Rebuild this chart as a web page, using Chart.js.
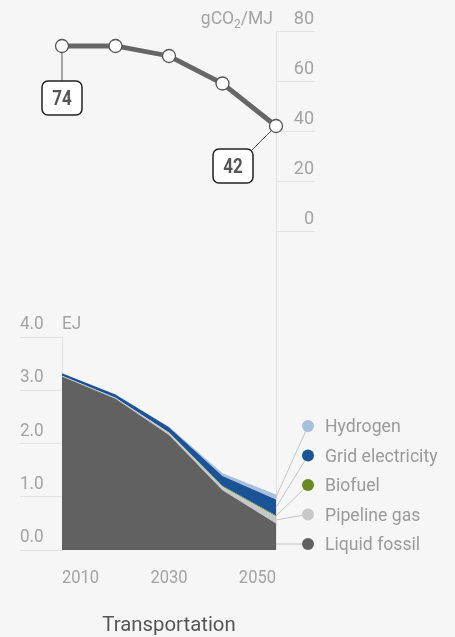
<!DOCTYPE html>
<html>
<head>
<meta charset="utf-8">
<script src="https://cdn.jsdelivr.net/npm/chart.js@4.4.1/dist/chart.umd.min.js"></script>
<style>
  html, body { margin: 0; padding: 0; background: #f6f6f6; }
  #wrap { position: relative; width: 455px; height: 637px; }
  #wrap canvas { position: absolute; left: 0; top: 0; }
</style>
</head>
<body>
<div id="wrap">
  <canvas id="areaChart" width="455" height="637"></canvas>
  <canvas id="lineChart" width="455" height="637"></canvas>
</div>
<script>
// data
const years = ['2010', '2020', '2030', '2040', '2050'];
const shownYears = ['2010', '2030', '2050'];
const intensity = [74, 74, 70, 59, 42];
const intensityTicks = [0, 20, 40, 60, 80];
const energyTicks = ['0.0', '1.0', '2.0', '3.0', '4.0'];

const liquidFossil = [3.26, 2.84, 2.16, 1.12, 0.50];
const pipelineGas = [0.01, 0.02, 0.04, 0.07, 0.13];
const biofuel = [0, 0, 0.005, 0.01, 0.02];
const gridElectricity = [0.05, 0.06, 0.10, 0.19, 0.30];
const hydrogen = [0, 0, 0.01, 0.05, 0.09];

const seriesNames = ['Liquid fossil', 'Pipeline gas', 'Biofuel', 'Grid electricity', 'Hydrogen'];
const seriesColors = ['#616161', '#c8c8c8', '#6b8a23', '#1b5496', '#a9c0dd'];

const TICK_GREY = '#a3a3a3';
const GRID = '#e2e2e2';

// text helper, sx squeezes Roboto horizontally so it looks condensed
function txt(ctx, s, x, y, size, color, align, weight, sx) {
  sx = sx || 1;
  ctx.save();
  ctx.font = (weight || 400) + ' ' + size + 'px Roboto';
  ctx.fillStyle = color;
  ctx.textBaseline = 'alphabetic';
  ctx.textAlign = 'left';
  const w = ctx.measureText(s).width * sx;
  let x0 = x;
  if (align === 'right') x0 = x - w;
  if (align === 'center') x0 = x - w / 2;
  ctx.translate(x0, y);
  ctx.scale(sx, 1);
  ctx.fillText(s, 0, 0);
  ctx.restore();
  return w;
}

function roundBox(ctx, cx, cy, w, h, r) {
  const x = cx - w / 2, y = cy - h / 2;
  ctx.beginPath();
  ctx.moveTo(x + r, y);
  ctx.arcTo(x + w, y, x + w, y + h, r);
  ctx.arcTo(x + w, y + h, x, y + h, r);
  ctx.arcTo(x, y + h, x, y, r);
  ctx.arcTo(x, y, x + w, y, r);
  ctx.closePath();
}

// ---------- top: carbon intensity line ----------
const lineDecor = {
  id: 'lineDecor',
  beforeDatasetsDraw(chart) {
    const ctx = chart.ctx;
    const pts = chart.getDatasetMeta(0).data;
    const first = pts[0], last = pts[pts.length - 1];
    ctx.save();
    ctx.strokeStyle = '#555';
    ctx.lineWidth = 1;
    ctx.beginPath();
    ctx.moveTo(first.x, first.y);
    ctx.lineTo(first.x, first.y + 36);
    ctx.moveTo(last.x, last.y);
    ctx.lineTo(last.x - 24, last.y + 24);
    ctx.stroke();
    ctx.restore();
  },
  afterDraw(chart) {
    const ctx = chart.ctx;
    const ys = chart.scales.y;
    const right = chart.chartArea.right + 38;
    intensityTicks.forEach(v => {
      txt(ctx, String(v), right, ys.getPixelForValue(v) - 7, 18, TICK_GREY, 'right');
    });
    // unit label gCO2/MJ
    const baseY = ys.getPixelForValue(80) - 7;
    ctx.save();
    ctx.font = '17.5px Roboto';
    const w3 = ctx.measureText('/MJ').width;
    const w1 = ctx.measureText('gCO').width;
    ctx.font = '12px Roboto';
    const w2 = ctx.measureText('2').width;
    ctx.restore();
    const endX = chart.chartArea.right - 3;
    const startX = endX - w1 - w2 - w3;
    txt(ctx, 'gCO', startX, baseY, 17.5, TICK_GREY, 'left');
    txt(ctx, '2', startX + w1, baseY + 4, 12, TICK_GREY, 'left');
    txt(ctx, '/MJ', startX + w1 + w2, baseY, 17.5, TICK_GREY, 'left');

    const pts = chart.getDatasetMeta(0).data;
    const boxes = [
      { p: pts[0], v: intensity[0], dx: 0, dy: 52 },
      { p: pts[pts.length - 1], v: intensity[intensity.length - 1], dx: -43, dy: 40 }
    ];
    boxes.forEach(b => {
      const cx = b.p.x + b.dx, cy = b.p.y + b.dy;
      ctx.save();
      roundBox(ctx, cx, cy, 40, 34, 6);
      ctx.fillStyle = '#fff';
      ctx.fill();
      ctx.strokeStyle = '#222';
      ctx.lineWidth = 1.5;
      ctx.stroke();
      ctx.restore();
      txt(ctx, String(b.v), cx, cy + 7, 20, '#555', 'center', 700, 0.85);
    });
  }
};

const lineChart = new Chart(document.getElementById('lineChart'), {
  type: 'line',
  data: {
    labels: years,
    datasets: [{
      data: intensity,
      borderColor: '#666',
      borderWidth: 4.8,
      pointRadius: 6.5,
      pointBackgroundColor: '#fff',
      pointBorderColor: '#555',
      pointBorderWidth: 1.3,
      tension: 0,
      clip: false
    }]
  },
  options: {
    responsive: false,
    animation: false,
    events: [],
    layout: { padding: { left: 62, right: 140, top: 31, bottom: 406 } },
    plugins: { legend: { display: false }, tooltip: { enabled: false } },
    scales: {
      x: { display: false },
      y: {
        position: 'right',
        min: 0,
        max: 80,
        ticks: { display: false, stepSize: 20 },
        grid: { drawOnChartArea: false, tickLength: 39, color: GRID },
        border: { color: GRID },
        afterFit(scale) { scale.width = 39; }
      }
    }
  },
  plugins: [lineDecor]
});

// ---------- bottom: stacked energy areas ----------
const areaDecor = {
  id: 'areaDecor',
  beforeDatasetsDraw(chart) {
    const ctx = chart.ctx;
    const ca = chart.chartArea;
    const topZero = lineChart.scales.y.getPixelForValue(0);
    ctx.save();
    ctx.strokeStyle = GRID;
    ctx.lineWidth = 1;
    ctx.beginPath();
    ctx.moveTo(ca.right + 0.5, topZero);
    ctx.lineTo(ca.right + 0.5, ca.bottom);
    ctx.stroke();
    ctx.restore();
  },
  afterDraw(chart) {
    const ctx = chart.ctx;
    const ca = chart.chartArea;
    const ys = chart.scales.y;
    const xs = chart.scales.x;
    energyTicks.forEach((t, i) => {
      txt(ctx, t, 20, ys.getPixelForValue(i) - 8, 19, TICK_GREY, 'left', 400, 0.9);
    });
    txt(ctx, 'EJ', ca.left, ys.getPixelForValue(4) - 8, 19, TICK_GREY, 'left', 400, 0.9);

    shownYears.forEach(y => {
      const idx = years.indexOf(y);
      const align = idx === 0 ? 'left' : (idx === years.length - 1 ? 'right' : 'center');
      txt(ctx, y, xs.getPixelForValue(idx), ca.bottom + 33, 19, TICK_GREY, 'left' === align ? 'left' : align, 400, 0.87);
    });

    txt(ctx, 'Transportation', (ca.left + ca.right) / 2, ca.bottom + 81, 21, '#555', 'center', 400, 0.97);

    // legend with leader lines
    const last = years.length - 1;
    const dotX = ca.right + 32;
    const n = seriesNames.length;
    for (let k = 0; k < n; k++) {
      const dsIndex = n - 1 - k;
      const dotY = 426 + k * 29.5;
      const meta = chart.getDatasetMeta(dsIndex);
      const topY = meta.data[last].y;
      const botY = dsIndex === 0 ? ys.getPixelForValue(0) : chart.getDatasetMeta(dsIndex - 1).data[last].y;
      let startY = (topY + botY) / 2;
      if (dotY >= topY && dotY <= botY) startY = dotY;
      ctx.save();
      ctx.strokeStyle = '#c4c4c4';
      ctx.lineWidth = 1;
      ctx.beginPath();
      ctx.moveTo(ca.right, startY);
      ctx.lineTo(dotX, dotY);
      ctx.stroke();
      ctx.beginPath();
      ctx.arc(dotX, dotY, 6, 0, Math.PI * 2);
      ctx.fillStyle = seriesColors[dsIndex];
      ctx.fill();
      ctx.restore();
      txt(ctx, seriesNames[dsIndex], dotX + 17, dotY + 6, 18, '#9a9a9a', 'left', 400, 0.98);
    }
  }
};

const seriesData = [liquidFossil, pipelineGas, biofuel, gridElectricity, hydrogen];

new Chart(document.getElementById('areaChart'), {
  type: 'line',
  data: {
    labels: years,
    datasets: seriesData.map((d, i) => ({
      label: seriesNames[i],
      data: d,
      backgroundColor: seriesColors[i],
      borderColor: 'rgba(0,0,0,0)',
      borderWidth: 0,
      pointRadius: 0,
      tension: 0,
      fill: i === 0 ? 'origin' : '-1'
    }))
  },
  options: {
    responsive: false,
    animation: false,
    events: [],
    layout: { padding: { left: 20, right: 179, top: 337, bottom: 87 } },
    plugins: { legend: { display: false }, tooltip: { enabled: false } },
    scales: {
      x: { display: false },
      y: {
        position: 'left',
        stacked: true,
        min: 0,
        max: 4,
        ticks: { display: false, stepSize: 1 },
        grid: { drawOnChartArea: false, tickLength: 42, color: GRID },
        border: { color: GRID },
        afterFit(scale) { scale.width = 42; }
      }
    }
  },
  plugins: [areaDecor]
});
</script>
</body>
</html>
